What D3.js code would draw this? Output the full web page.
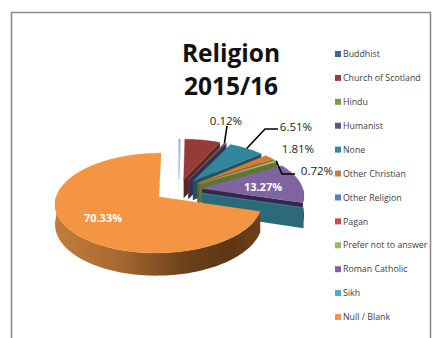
<!DOCTYPE html>
<html>
<head>
<meta charset="utf-8">
<script src="https://cdn.jsdelivr.net/npm/d3@7"></script>
<style>
  html, body { margin: 0; background: #fff; }
  svg { display: block; }
  text { font-family: "Open Sans", "Liberation Sans", sans-serif; }
</style>
</head>
<body>
<svg id="chart" width="441" height="338"></svg>
<script>
// Religion survey, share of responses per category
const categories = ["Buddhist", "Church of Scotland", "Hindu", "Humanist", "None", "Other Christian",
  "Other Religion", "Pagan", "Prefer not to answer", "Roman Catholic", "Sikh", "Null / Blank"];
const shares = [0.3, 6.5, 0.12, 0.29, 6.51, 1.81, 0.1, 0.03, 0.72, 13.27, 0.02, 70.33];
const shownLabels = ["", "", "0.12%", "", "6.51%", "1.81%", "", "", "0.72%", "13.27%", "", "70.33%"];
const topColors = ["#8fb0d6", "#973b39", "#77933c", "#5f4a7e", "#31859c", "#d97a2f",
  "#4f81bd", "#c0504d", "#9bbb59", "#8064a2", "#4bacc6", "#f39542"];
const wallColors = ["#c5d5e8", "#5c2422", "#4f6228", "#3a2d50", "#1f5361", "#8a4d1e",
  "#2f4f75", "#74302e", "#5f7530", "#33284a", "#2c6a7a", "#6e4018"];
const legendColors = ["#3f6797", "#9b3c3a", "#7f9a47", "#674f87", "#35899f", "#cc7d39",
  "#4f81bd", "#c0504d", "#9bbb59", "#8064a2", "#4bacc6", "#f79646"];

const svg = d3.select("#chart");

// Outer chart frame
svg.append("path")
  .attr("d", "M11.5,338V12.5H430.5V338")
  .attr("fill", "none").attr("stroke", "#8c8c8c").attr("stroke-width", 1.6);

// Title
svg.append("text").attr("text-anchor", "middle").attr("font-size", 24.5).attr("font-weight", 700)
  .attr("fill", "#111").style("font-family", "'Open Sans', sans-serif")
  .selectAll("tspan").data(["Religion", "2015/16"]).join("tspan")
  .attr("x", 231).attr("y", (d, i) => 62 + i * 33).text(d => d);

// Tilted-pie projection: plan coordinates (u, v) with a slight perspective
const centre = [178.5, 190], scaleU = 101, scaleV = 47.5, persp = 0.122, depth = 19.5, explode = 0.237;
function project(u, v, drop = 0) {
  const w = 1 + persp * v;
  return [centre[0] + scaleU * u / w, centre[1] - scaleV * v / w + drop / w];
}

const slices = d3.pie().value(d => d).sort(null)(shares);
const defs = svg.append("defs");
const line = d3.line();
const pieLayer = svg.append("g");

function planPoint(s, angle, r) {
  const mid = (s.startAngle + s.endAngle) / 2;
  return [explode * Math.sin(mid) + r * Math.sin(angle), explode * Math.cos(mid) + r * Math.cos(angle)];
}
function arcAngles(a0, a1) {
  const n = Math.max(2, Math.ceil((a1 - a0) / 0.03));
  return d3.range(n + 1).map(i => a0 + (a1 - a0) * i / n);
}

slices.forEach((s, i) => {
  const g = pieLayer.append("g");
  const apex = planPoint(s, 0, 0);
  const endEdge = planPoint(s, s.endAngle, 1);
  const startEdge = planPoint(s, s.startAngle, 1);
  const face = (a, b) => line([project(...a), project(...b), project(...b, depth), project(...a, depth)]) + "Z";

  // Radial cut faces that turn toward the viewer
  if (Math.sin(s.startAngle) < -0.01) g.append("path").attr("d", face(apex, startEdge)).attr("fill", wallColors[i]);
  if (Math.sin(s.endAngle) > 0.01) g.append("path").attr("d", face(apex, endEdge)).attr("fill", wallColors[i]);

  // Outer rim, only the front-facing part
  const a0 = Math.max(s.startAngle, Math.PI / 2), a1 = Math.min(s.endAngle, Math.PI * 1.5);
  if (a1 > a0) {
    const angles = arcAngles(a0, a1);
    const up = angles.map(a => project(...planPoint(s, a, 1)));
    const down = angles.map(a => project(...planPoint(s, a, 1), depth)).reverse();
    let fill = wallColors[i];
    if (i === shares.length - 1) {
      // The large slice's rim is shaded from light on the left to dark on the right
      const xs = up.map(p => p[0]);
      const grad = defs.append("linearGradient").attr("id", "rim").attr("gradientUnits", "userSpaceOnUse")
        .attr("x1", d3.min(xs)).attr("x2", d3.max(xs)).attr("y1", 0).attr("y2", 0);
      [[0, "#c27d3c"], [0.3, "#a96a31"], [0.65, "#6a3f1a"], [0.85, "#5f3717"], [1, "#6b3f1b"]]
        .forEach(([o, c]) => grad.append("stop").attr("offset", o).attr("stop-color", c));
      fill = "url(#rim)";
    }
    g.append("path").attr("d", line(up.concat(down)) + "Z").attr("fill", fill);
  }

  // Top face
  const rimPts = arcAngles(s.startAngle, s.endAngle).map(a => project(...planPoint(s, a, 1)));
  g.append("path").attr("d", line([project(...apex), ...rimPts]) + "Z")
    .attr("fill", topColors[i]).attr("stroke", topColors[i]).attr("stroke-width", 0.3);
});

// Value labels and their leader lines
const labelLayout = {
  "0.12%": { at: [226, 125], rim: 1.0, elbow: [[227, 126]] },
  "6.51%": { at: [296, 131], rim: 1.0, elbow: [[265, 129], [278, 129]] },
  "1.81%": { at: [298, 153] },
  "0.72%": { at: [317, 175], rim: 1.0, elbow: [[282, 174], [295, 174]] },
  "13.27%": { at: [263, 191], white: true },
  "70.33%": { at: [103, 222], white: true }
};
shownLabels.forEach((txt, i) => {
  if (!txt) return;
  const cfg = labelLayout[txt], s = slices[i];
  if (cfg.elbow) {
    const mid = (s.startAngle + s.endAngle) / 2;
    const anchor = project(...planPoint(s, mid, cfg.rim));
    pieLayer.append("path")
      .attr("d", line([anchor, ...cfg.elbow]))
      .attr("fill", "none").attr("stroke", "#000").attr("stroke-width", 1.6);
  }
  svg.append("text").attr("x", cfg.at[0]).attr("y", cfg.at[1]).attr("text-anchor", "middle")
    .attr("font-size", cfg.white ? 11 : 11.5).attr("font-weight", cfg.white ? 700 : 400)
    .attr("fill", cfg.white ? "#fff" : "#222").text(txt);
});

// Legend
const legendY = d3.scalePoint().domain(categories).range([54, 317]);
const legend = svg.append("g").selectAll("g").data(categories).join("g")
  .attr("transform", d => `translate(335,${legendY(d)})`);
legend.append("rect").attr("x", 0).attr("y", -3).attr("width", 6).attr("height", 6)
  .attr("fill", (d, i) => legendColors[i]);
legend.append("text").attr("x", 8).attr("y", 3.2).attr("font-size", 8.8).attr("fill", "#404040").text(d => d);
</script>
</body>
</html>
